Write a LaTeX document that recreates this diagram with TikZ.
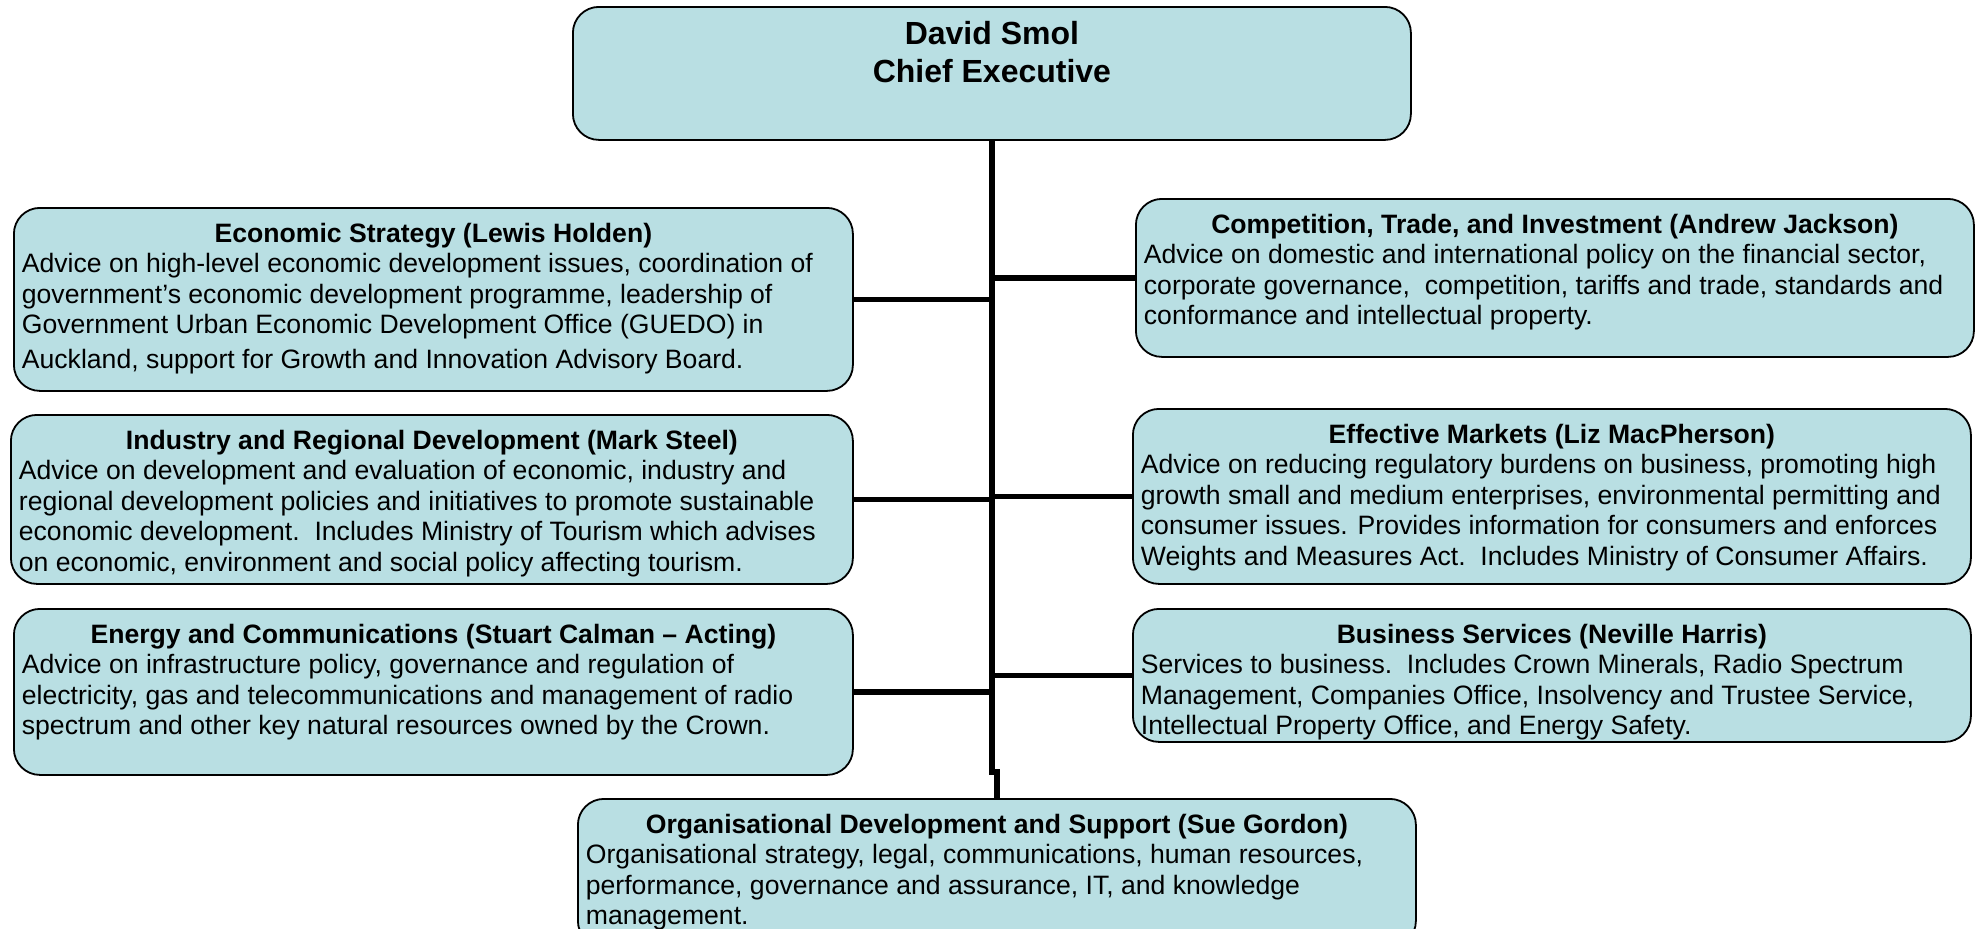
\documentclass[tikz,border=0pt]{standalone}
\usepackage{fontspec}
\setmainfont{Liberation Sans}
\definecolor{boxfill}{RGB}{185,223,227}
\newcommand\orgtext[4]{% width, height, title, body
  \parbox[c][#2][t]{#1}{\fontsize{13.3}{15.3}\selectfont\vspace*{7.5pt}%
  {\centering\bfseries #3\par}\raggedright #4}}
\tikzset{
  unitbox/.style={draw=black, line width=0.9pt, fill=boxfill, rounded corners=13pt,
    inner xsep=4pt, inner ysep=0pt, anchor=north west},
  trunk/.style={line width=3.4pt, black},
  branch/.style={line width=2.6pt, black},
}
\begin{document}
\begin{tikzpicture}[x=1pt,y=-1pt]
\useasboundingbox (0,0) rectangle (989.5,464);
% boxes
\node[unitbox] (ceo) at (286,3)
  {\parbox[c][66.5pt][t]{411pt}{\fontsize{16}{19}\selectfont\bfseries\centering
   \vspace*{7pt}David Smol\\Chief Executive\par}};
\node[unitbox] (econ) at (6.5,103.5) {\orgtext{411.5pt}{91.5pt}
  {Economic Strategy (Lewis Holden)}
  {Advice on high-level economic development issues, coordination of\\
   government’s economic development programme, leadership of\\
   Government Urban Economic Development Office (GUEDO) in\\[2pt]
   Auckland, support for Growth and Innovation Advisory Board.}};
\node[unitbox] (ind) at (5,207) {\orgtext{413pt}{84.5pt}
  {Industry and Regional Development (Mark Steel)}
  {Advice on development and evaluation of economic, industry and\\
   regional development policies and initiatives to promote sustainable\\
   economic development.\ \ Includes Ministry of Tourism which advises\\
   on economic, environment and social policy affecting tourism.}};
\node[unitbox] (ener) at (6.5,304) {\orgtext{411.5pt}{83pt}
  {Energy and Communications (Stuart Calman – Acting)}
  {Advice on infrastructure policy, governance and regulation of\\
   electricity, gas and telecommunications and management of radio\\
   spectrum and other key natural resources owned by the Crown.}};
\node[unitbox] (comp) at (567.5,99) {\orgtext{411pt}{79pt}
  {Competition, Trade, and Investment (Andrew Jackson)}
  {Advice on domestic and international policy on the financial sector,\\
   corporate governance,\ \ competition, tariffs and trade, standards and\\
   conformance and intellectual property.}};
\node[unitbox] (eff) at (566,204) {\orgtext{411pt}{87.5pt}
  {Effective Markets (Liz MacPherson)}
  {Advice on reducing regulatory burdens on business, promoting high\\
   growth small and medium enterprises, environmental permitting and\\
   consumer issues. Provides information for consumers and enforces\\
   Weights and Measures Act.\ \ Includes Ministry of Consumer Affairs.}};
\node[unitbox] (bus) at (566,304) {\orgtext{411pt}{66.5pt}
  {Business Services (Neville Harris)}
  {Services to business.\ \ Includes Crown Minerals, Radio Spectrum\\
   Management, Companies Office, Insolvency and Trustee Service,\\
   Intellectual Property Office, and Energy Safety.}};
\node[unitbox] (org) at (288.5,399) {\orgtext{411pt}{74pt}
  {Organisational Development and Support (Sue Gordon)}
  {Organisational strategy, legal, communications, human resources,\\
   performance, governance and assurance, IT, and knowledge\\
   management.}};
% connectors
\coordinate (jog) at (0,386);
\draw[trunk] (ceo.south) -- (ceo.south |- jog) -| (org.north);
\draw[branch] (econ.east) -- (econ.east -| ceo.south);
\draw[branch] (ind.east) -- (ind.east -| ceo.south);
\draw[branch] (ener.east) -- (ener.east -| ceo.south);
\draw[branch] (comp.west) -- (comp.west -| ceo.south);
\draw[branch] (eff.west) -- (eff.west -| ceo.south);
\draw[branch] (bus.west) -- (bus.west -| ceo.south);
\end{tikzpicture}
\end{document}
